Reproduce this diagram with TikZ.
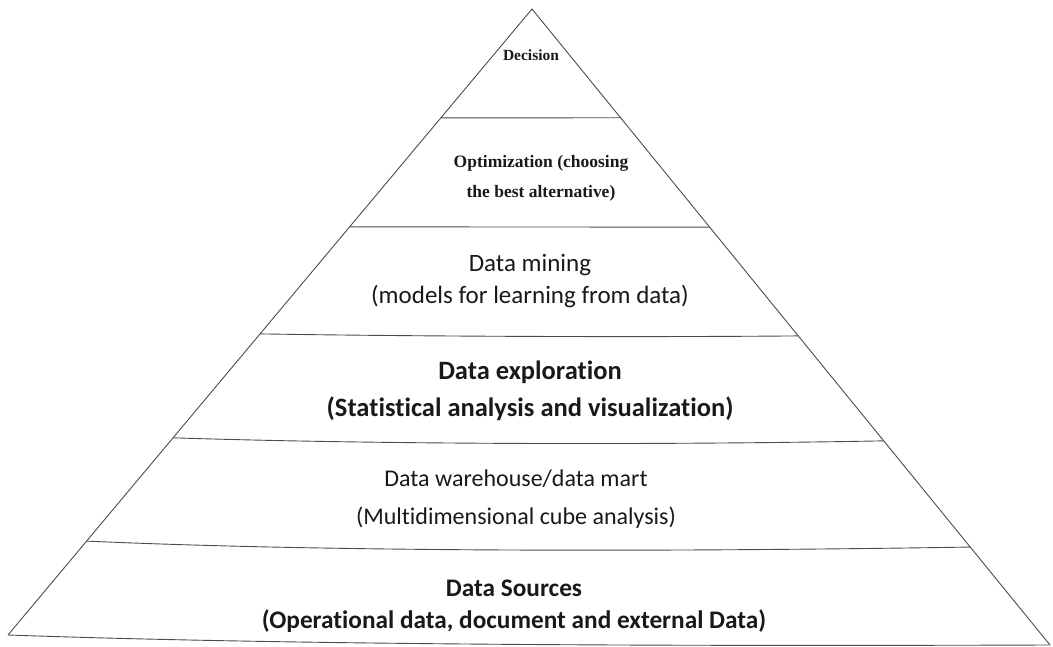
\documentclass[tikz,border=0pt]{standalone}
\usepackage{fontspec}
\setmainfont[Ligatures=NoCommon]{Carlito}
\newfontfamily\serifgras{Liberation Serif}
\usetikzlibrary{calc}

\begin{document}
\begin{tikzpicture}[x=1pt,y=-1pt]
\tikzstyle{trait}=[draw=black!70,line width=0.9pt]
\tikzstyle{texte}=[align=center,inner sep=0pt,text=black!90]
\useasboundingbox (0,0) rectangle (1053,647);
% sommet et base de la pyramide
\coordinate (S) at (532,9);
\coordinate (G) at (8,635);
\coordinate (D) at (1050,645);
\draw[trait] (G)--(S)--(D);
\draw[trait] (G) .. controls ($(G)!0.3!(D)+(0,8)$) and ($(G)!0.7!(D)+(0,4)$) .. (D);
% separations entre les niveaux
\coordinate (Ag) at ($(S)!0.174!(G)$);
\coordinate (Ad) at ($(S)!0.171!(D)$);
\coordinate (Bg) at ($(S)!0.348!(G)$);
\coordinate (Bd) at ($(S)!0.343!(D)$);
\coordinate (Cg) at ($(S)!0.519!(G)$);
\coordinate (Cd) at ($(S)!0.514!(D)$);
\coordinate (Dg) at ($(S)!0.685!(G)$);
\coordinate (Dd) at ($(S)!0.679!(D)$);
\coordinate (Eg) at ($(S)!0.850!(G)$);
\coordinate (Ed) at ($(S)!0.846!(D)$);
\draw[trait] (Ag)--(Ad);
\draw[trait] (Bg)--(Bd);
\draw[trait] (Cg) .. controls ($(Cg)!0.3!(Cd)+(0,2)$) and ($(Cg)!0.7!(Cd)+(0,2)$) .. (Cd);
\draw[trait] (Dg) .. controls ($(Dg)!0.3!(Dd)+(0,6)$) and ($(Dg)!0.7!(Dd)+(0,5)$) .. (Dd);
\draw[trait] (Eg) .. controls ($(Eg)!0.3!(Ed)+(0,10)$) and ($(Eg)!0.7!(Ed)+(0,6)$) .. (Ed);
% textes
\node[texte,font=\serifgras\bfseries\fontsize{15.5}{17}\selectfont] (decision) at (531,55) {Decision};
\node[texte,font=\serifgras\bfseries\fontsize{17.5}{30}\selectfont] (optim) at (541,178) {Optimization (choosing\\the best alternative)};
\node[texte,font=\fontsize{25}{32}\selectfont] (fouille) at (530,281) {Data mining\\(models for learning from data)};
\node[texte,font=\bfseries\fontsize{26.5}{37}\selectfont] (explo) at (530,391) {Data exploration\\(Statistical analysis and visualization)};
\node[texte,font=\fontsize{24}{38}\selectfont] (entrepot) at (516,499) {Data warehouse/data mart\\(Multidimensional cube analysis)};
\node[texte,font=\bfseries\fontsize{25.3}{32}\selectfont] (sources) at (514,606) {Data Sources\\(Operational data, document and external Data)};
\end{tikzpicture}
\end{document}
